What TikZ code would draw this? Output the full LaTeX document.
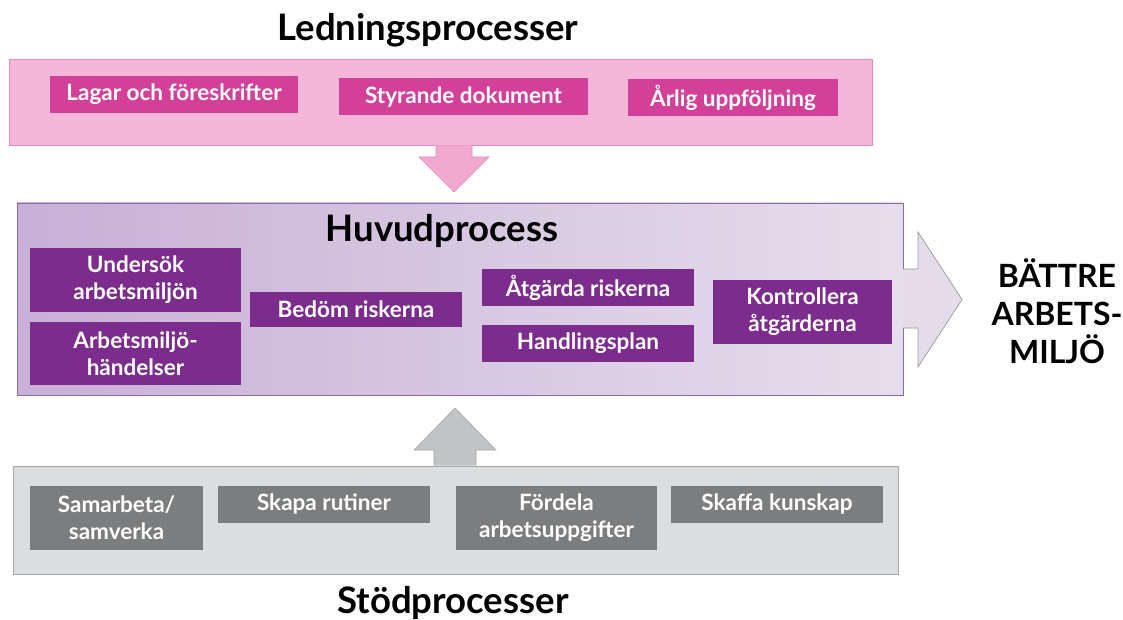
\documentclass[tikz,border=0pt]{standalone}
\usepackage{fontspec}
\setmainfont{Lato}

\definecolor{ledband}{HTML}{F5B7D9}
\definecolor{ledline}{HTML}{E48CBF}
\definecolor{ledarrow}{HTML}{F2A9D0}
\definecolor{ledfill}{HTML}{D3409A}
\definecolor{huvleft}{HTML}{C8AFD6}
\definecolor{huvright}{HTML}{E6DEEC}
\definecolor{huvline}{HTML}{8C6BA3}
\definecolor{huvfill}{HTML}{7B2C8C}
\definecolor{huvarrow}{HTML}{E4DCEA}
\definecolor{stodband}{HTML}{DCDDDE}
\definecolor{stodline}{HTML}{A5A6A7}
\definecolor{stodfill}{HTML}{7B7D7E}
\definecolor{stodarrow}{HTML}{C2C3C4}

\begin{document}
\begin{tikzpicture}[x=1pt,y=-1pt,
  procbox/.style={text=white, font=\fontsize{22.5}{27}\selectfont\bfseries,
    align=center, inner sep=0pt, minimum height=37pt},
  ledproc/.style={procbox, fill=ledfill},
  huvproc/.style={procbox, fill=huvfill},
  stodproc/.style={procbox, fill=stodfill},
  heading/.style={font=\fontsize{36.5}{40}\selectfont\bfseries, anchor=base},
  goaltext/.style={font=\fontsize{32}{38}\selectfont\bfseries, align=center}]
  \useasboundingbox (0,0) rectangle (1123,620);

  % ledningsprocesser (top band)
  \node[heading] (ledtitle) at (428,41) {Ledningsprocesser};
  \filldraw[fill=ledband, draw=ledline, line width=0.8pt] (9,59) rectangle (872,145);
  \fill[ledarrow] (436,145.4) -- (436,157) -- (419,157) -- (454,192) -- (489,157) -- (472,157) -- (472,145.4);
  \draw[ledline, line width=0.6pt] (436,145.4) -- (436,157) -- (419,157) -- (454,192) -- (489,157) -- (472,157) -- (472,145.4);
  \node[ledproc, minimum width=248pt] (lagar) at (174,94.5) {Lagar och föreskrifter};
  \node[ledproc, minimum width=249pt] (styr) at (463.5,97) {Styrande dokument};
  \node[ledproc, minimum width=210pt] (arlig) at (733,97.5) {Årlig uppföljning};

  % huvudprocess (middle band)
  \draw[huvline, line width=0.8pt, left color=huvleft, right color=huvright] (17,203) rectangle (903,395);
  \filldraw[fill=huvarrow, draw=gray!80, line width=0.7pt] (903,269) -- (918,269) -- (918,232) -- (962,299.5) -- (918,367) -- (918,328) -- (903,328);
  \node[heading] (huvtitle) at (442,241) {Huvudprocess};
  \node[huvproc, minimum width=211pt, minimum height=64pt] (undersok) at (135.5,280) {Undersök\\arbetsmiljön};
  \node[huvproc, minimum width=211pt, minimum height=63pt] (handelser) at (135.5,353.5) {Arbetsmiljö-\\händelser};
  \node[huvproc, minimum width=212pt, minimum height=35pt] (bedom) at (356,309.5) {Bedöm riskerna};
  \node[huvproc, minimum width=212pt] (atgarda) at (588,287.5) {Åtgärda riskerna};
  \node[huvproc, minimum width=212pt] (plan) at (588,343.5) {Handlingsplan};
  \node[huvproc, minimum width=179pt, minimum height=64pt] (kontroll) at (802.5,312) {Kontrollera\\åtgärderna};
  \node[goaltext] (goal) at (1057,311) {BÄTTRE\\ARBETS-\\MILJÖ};

  % stödprocesser (bottom band)
  \filldraw[fill=stodband, draw=stodline, line width=0.8pt] (13,466) rectangle (898,574);
  \fill[stodarrow] (434,465.6) -- (434,450) -- (414,450) -- (455,408) -- (496,450) -- (476,450) -- (476,465.6);
  \draw[stodline, line width=0.6pt] (434,465.6) -- (434,450) -- (414,450) -- (455,408) -- (496,450) -- (476,450) -- (476,465.6);
  \node[stodproc, minimum width=173pt, minimum height=64pt] (samarbeta) at (116.5,518) {Samarbeta/\\samverka};
  \node[stodproc, minimum width=212pt] (rutiner) at (324,504.5) {Skapa rutiner};
  \node[stodproc, minimum width=201pt, minimum height=64pt] (fordela) at (556.5,518) {Fördela\\arbetsuppgifter};
  \node[stodproc, minimum width=212pt] (kunskap) at (777,504.5) {Skaffa kunskap};
  \node[heading] (stodtitle) at (453,613) {Stödprocesser};

\end{tikzpicture}
\end{document}
